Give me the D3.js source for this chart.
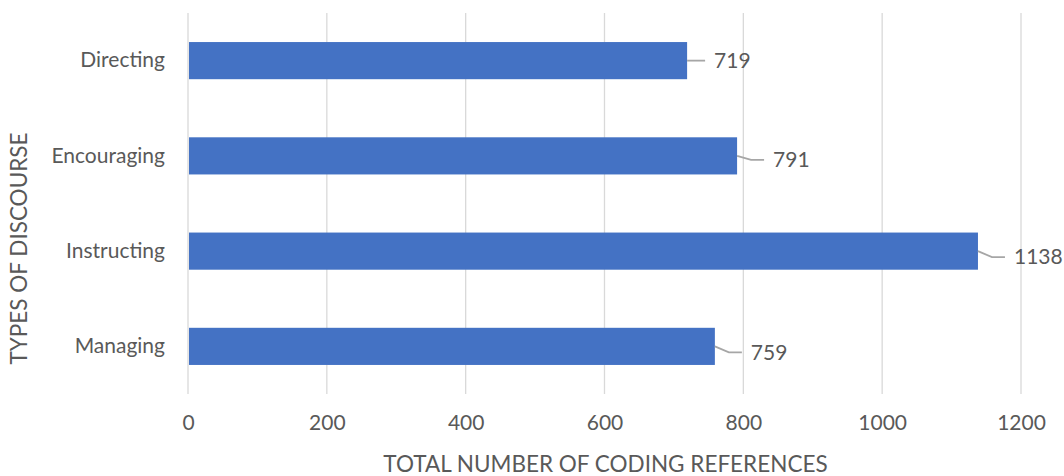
<!DOCTYPE html>
<html>
<head>
<meta charset="utf-8">
<script src="https://cdn.jsdelivr.net/npm/d3@7"></script>
<style>
  body { margin: 0; background: #fff; }
  text { font-family: Lato, "Open Sans", sans-serif; fill: #595959; }
</style>
</head>
<body>
<div id="chart"></div>
<script>
// data
var categories = ["Directing", "Encouraging", "Instructing", "Managing"];
var values = [719, 791, 1138, 759];
var xTicks = [0, 200, 400, 600, 800, 1000, 1200];
var xTitle = "TOTAL NUMBER OF CODING REFERENCES";
var yTitle = "TYPES OF DISCOURSE";

var wdth = 1064, hght = 476;
var margin = {top: 13, right: 43, bottom: 82, left: 188},
    width = wdth - margin.left - margin.right,
    height = hght - margin.top - margin.bottom;

var svg = d3.select("#chart")
  .append("svg")
    .attr("width", wdth)
    .attr("height", hght);

var g = svg.append("g")
    .attr("transform", "translate(" + margin.left + "," + margin.top + ")");

var x = d3.scaleLinear()
  .domain([0, 1200])
  .range([0, width]);

var y = d3.scaleBand()
  .domain(categories)
  .range([0, height])
  .paddingInner(0.61)
  .paddingOuter(0.305);

// gridlines
g.selectAll(".grid")
  .data(xTicks)
  .enter()
  .append("line")
    .attr("x1", function(d){ return x(d) })
    .attr("x2", function(d){ return x(d) })
    .attr("y1", 0)
    .attr("y2", height)
    .attr("stroke", "#d9d9d9")
    .attr("stroke-width", 1.3);

// x axis labels
var xAxis = g.append("g")
  .attr("transform", "translate(0," + height + ")")
  .call(d3.axisBottom(x).tickValues(xTicks).tickSize(0).tickPadding(21).tickFormat(d3.format("d")));
xAxis.select(".domain").remove();
xAxis.selectAll("text")
  .style("font-size", "21px")
  .style("font-family", "Lato, sans-serif")
  .attr("fill", "#595959");

// y axis labels
var yAxis = g.append("g")
  .call(d3.axisLeft(y).tickSize(0).tickPadding(23));
yAxis.select(".domain").remove();
yAxis.selectAll("text")
  .style("font-size", "21px")
  .style("font-family", "Lato, sans-serif")
  .attr("fill", "#595959");

// bars
var data = categories.map(function(c, i){ return {cat: c, value: values[i]} });

g.selectAll(".bar")
  .data(data)
  .enter()
  .append("rect")
    .attr("x", x(0) + 1)
    .attr("y", function(d){ return y(d.cat) })
    .attr("width", function(d){ return x(d.value) - x(0) - 1 })
    .attr("height", y.bandwidth())
    .attr("fill", "#4472c4");

// data labels with small leader lines
var labelShift = [0, 4, 6, 6];

g.selectAll(".leader")
  .data(data)
  .enter()
  .append("path")
    .attr("fill", "none")
    .attr("stroke", "#a6a6a6")
    .attr("stroke-width", 1.8)
    .attr("d", function(d, i){
      var x0 = x(d.value), y0 = y(d.cat) + y.bandwidth()/2, dy = labelShift[i];
      if (dy == 0) return "M" + x0 + "," + y0 + "H" + (x0 + 18);
      return "M" + x0 + "," + y0 + "L" + (x0 + 14) + "," + (y0 + dy) + "H" + (x0 + 27);
    });

g.selectAll(".lbl")
  .data(data)
  .enter()
  .append("text")
    .attr("x", function(d, i){ return x(d.value) + (labelShift[i] == 0 ? 27 : 36) })
    .attr("y", function(d, i){ return y(d.cat) + y.bandwidth()/2 + labelShift[i] })
    .attr("dy", "0.35em")
    .style("font-size", "21px")
    .text(function(d){ return d.value });

// axis titles
svg.append("text")
  .attr("x", margin.left + x(600) + 1)
  .attr("y", 464)
  .attr("dy", "0.35em")
  .attr("text-anchor", "middle")
  .style("font-size", "22.5px")
  .text(xTitle);

svg.append("text")
  .attr("transform", "translate(19," + (margin.top + height/2 + 45) + ") rotate(-90)")
  .attr("dy", "0.35em")
  .attr("text-anchor", "middle")
  .style("font-size", "22.5px")
  .text(yTitle);
</script>
</body>
</html>
